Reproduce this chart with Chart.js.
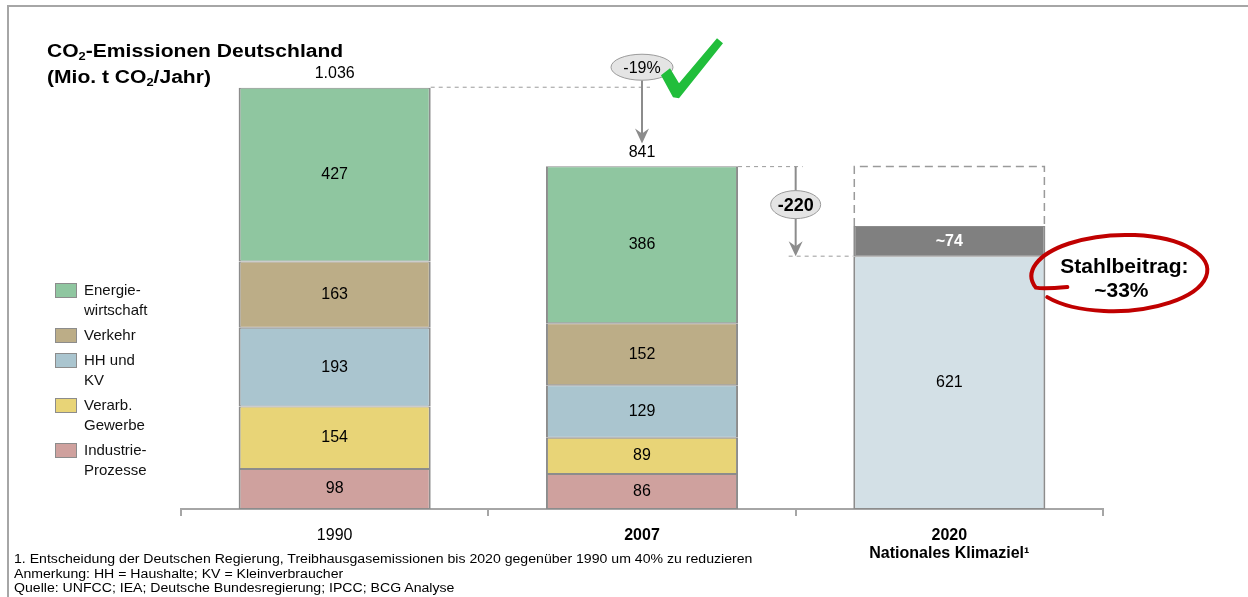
<!DOCTYPE html>
<html>
<head>
<meta charset="utf-8">
<script src="https://cdn.jsdelivr.net/npm/chart.js@4.4.1/dist/chart.umd.min.js"></script>
<style>
    html, body { margin: 0; padding: 0; background: #fff; }
    #wrap { position: relative; width: 1248px; height: 597px; overflow: hidden; font-family: Arial, "Liberation Sans", sans-serif; color: #000; }
    #frame { position: absolute; left: 7px; top: 5px; width: 1300px; height: 700px; border-left: 2px solid #a6a6a6; border-top: 2px solid #a6a6a6; }
    canvas { position: absolute; left: 0; top: 0; }
    #title { position: absolute; left: 47px; top: 38px; font-size: 18px; font-weight: bold; line-height: 26px; transform: scaleX(1.17); transform-origin: left top; white-space: nowrap; }
    #title sub { font-size: 11px; vertical-align: -3px; line-height: 0; }
    #legend { position: absolute; left: 55px; top: 280px; font-size: 15px; line-height: 20px; color: #111; }
    .item { display: flex; margin-bottom: 5px; }
    .box { width: 20px; height: 13px; border: 1px solid #8c8c8c; margin-top: 3px; margin-right: 7px; }
    #notes { position: absolute; left: 14px; top: 552px; font-size: 12px; line-height: 14.5px; white-space: nowrap; transform: scaleX(1.175); transform-origin: left top; }
</style>
</head>
<body>
<div id="wrap">
    <div id="frame"></div>
    <canvas id="chart" width="1248" height="597"></canvas>
    <div id="title">CO<sub>2</sub>-Emissionen Deutschland<br>(Mio. t CO<sub>2</sub>/Jahr)</div>
    <div id="legend"></div>
    <div id="notes">
        1. Entscheidung der Deutschen Regierung, Treibhausgasemissionen bis 2020 gegenüber 1990 um 40% zu reduzieren<br>
        Anmerkung: HH = Haushalte; KV = Kleinverbraucher<br>
        Quelle: UNFCC; IEA; Deutsche Bundesregierung; IPCC; BCG Analyse
    </div>
</div>
<script>
// Daten (Mio. t CO2/Jahr)
const categories = ['1990', '2007', ['2020', 'Nationales Klimaziel¹']];
const energie   = [427, 386, null];
const verkehr   = [163, 152, null];
const haushalte = [193, 129, null];
const gewerbe   = [154, 89, null];
const industrie = [98, 86, null];
const ziel2020  = [null, null, 621];
const stahl     = [null, null, 74];
const totals    = [1036, 841, null];
const reduction = 220;
const changeLabel = '-19%';
const steelShare = ['Stahlbeitrag:', '~33%'];

const FONT = 'Arial, "Liberation Sans", sans-serif';

const datasets = [
    { label: 'Industrie-Prozesse', legend: ['Industrie-', 'Prozesse'], data: industrie, backgroundColor: '#cfa19e' },
    { label: 'Verarb. Gewerbe', legend: ['Verarb.', 'Gewerbe'], data: gewerbe, backgroundColor: '#e8d477' },
    { label: 'HH und KV', legend: ['HH und', 'KV'], data: haushalte, backgroundColor: '#aac5cf' },
    { label: 'Verkehr', legend: ['Verkehr'], data: verkehr, backgroundColor: '#bcad87' },
    { label: 'Energiewirtschaft', legend: ['Energie-', 'wirtschaft'], data: energie, backgroundColor: '#8fc6a0' },
    { label: 'Ziel 2020', data: ziel2020, backgroundColor: '#d3e0e6' },
    { label: 'Stahl', data: stahl, backgroundColor: '#808080', prefix: '~', labelColor: '#fff', labelBold: true }
];
datasets.forEach(ds => {
    ds.borderColor = '#8c8c8c';
    ds.borderWidth = { left: 2, right: 2, top: 1, bottom: 1 };
    ds.borderSkipped = false;
});

// Legende (HTML), oberste Kategorie zuerst
const legendEl = document.getElementById('legend');
datasets.filter(ds => ds.legend).reverse().forEach(ds => {
    const item = document.createElement('div');
    item.className = 'item';
    item.innerHTML = '<div class="box" style="background:' + ds.backgroundColor + '"></div><div>' + ds.legend.join('<br>') + '</div>';
    legendEl.appendChild(item);
});

// Werte in den Segmenten
const segmentLabels = {
    id: 'segmentLabels',
    afterDatasetsDraw(chart) {
        const ctx = chart.ctx;
        ctx.save();
        ctx.textAlign = 'center';
        ctx.textBaseline = 'middle';
        chart.data.datasets.forEach((ds, i) => {
            chart.getDatasetMeta(i).data.forEach((bar, j) => {
                const v = ds.data[j];
                if (v == null) return;
                ctx.fillStyle = ds.labelColor || '#000';
                ctx.font = (ds.labelBold ? 'bold ' : '') + '16px ' + FONT;
                ctx.fillText((ds.prefix || '') + v, bar.x, (bar.y + bar.base) / 2);
            });
        });
        ctx.restore();
    }
};

function downArrow(ctx, x, y1, y2) {
    ctx.setLineDash([]);
    ctx.strokeStyle = '#8c8c8c';
    ctx.fillStyle = '#8c8c8c';
    ctx.lineWidth = 2;
    ctx.beginPath();
    ctx.moveTo(x, y1);
    ctx.lineTo(x, y2 - 8);
    ctx.stroke();
    ctx.beginPath();
    ctx.moveTo(x, y2);
    ctx.lineTo(x - 7, y2 - 15);
    ctx.lineTo(x, y2 - 10);
    ctx.lineTo(x + 7, y2 - 15);
    ctx.closePath();
    ctx.fill();
}

function bubble(ctx, cx, cy, rx, ry, text, font) {
    ctx.setLineDash([]);
    ctx.beginPath();
    ctx.ellipse(cx, cy, rx, ry, 0, 0, Math.PI * 2);
    ctx.fillStyle = '#e4e4e4';
    ctx.fill();
    ctx.strokeStyle = '#9a9a9a';
    ctx.lineWidth = 1;
    ctx.stroke();
    ctx.fillStyle = '#000';
    ctx.font = font;
    ctx.textAlign = 'center';
    ctx.textBaseline = 'middle';
    ctx.fillText(text, cx, cy + 1);
}

function dashedLine(ctx, x1, y1, x2, y2) {
    ctx.setLineDash([4, 4]);
    ctx.strokeStyle = '#9a9a9a';
    ctx.lineWidth = 1;
    ctx.beginPath();
    ctx.moveTo(x1, y1);
    ctx.lineTo(x2, y2);
    ctx.stroke();
}

// Summen, Pfeile, Markierungen
const annotations = {
    id: 'annotations',
    afterDatasetsDraw(chart) {
        const ctx = chart.ctx;
        const { x, y } = chart.scales;
        const bars = chart.getDatasetMeta(0).data;
        const steelBar = chart.getDatasetMeta(datasets.length - 1).data[2];
        const halfW = bars[0].width / 2;
        ctx.save();

        // Summen über den Balken
        ctx.fillStyle = '#000';
        ctx.font = '16px ' + FONT;
        ctx.textAlign = 'center';
        ctx.textBaseline = 'middle';
        totals.forEach((t, i) => {
            if (t == null) return;
            ctx.fillText(t.toLocaleString('de-DE'), x.getPixelForValue(i), y.getPixelForValue(t) - 14);
        });

        // -19%
        const y1990 = y.getPixelForValue(totals[0]);
        const y2007 = y.getPixelForValue(totals[1]);
        const ax = x.getPixelForValue(1);
        dashedLine(ctx, bars[0].x + halfW, y1990, ax + 8, y1990);
        downArrow(ctx, ax, y1990 - 7, y2007 - 23);
        bubble(ctx, ax, y1990 - 20, 31, 13, changeLabel, '16px ' + FONT);

        // Haken
        const cx = ax, cy = y1990 - 20;
        ctx.beginPath();
        ctx.moveTo(cx + 19, cy + 8);
        ctx.lineTo(cx + 28, cy + 1);
        ctx.lineTo(cx + 37, cy + 16);
        ctx.lineTo(cx + 75, cy - 29);
        ctx.lineTo(cx + 81, cy - 24);
        ctx.lineTo(cx + 37, cy + 31);
        ctx.lineTo(cx + 31, cy + 30);
        ctx.closePath();
        ctx.fillStyle = '#21be3b';
        ctx.fill();

        // -220
        const yTarget = y.getPixelForValue(totals[1] - reduction);
        const bx = (bars[1].x + halfW + steelBar.x - halfW) / 2;
        dashedLine(ctx, bars[1].x + halfW, y2007, bx + 7, y2007);
        dashedLine(ctx, bx - 7, yTarget, steelBar.x - halfW, yTarget);
        downArrow(ctx, bx, y2007, yTarget);
        bubble(ctx, bx, y2007 + 38, 25, 14, '-' + reduction, 'bold 18px ' + FONT);

        // gestrichelter Rahmen (Rest bis 2007-Niveau)
        ctx.setLineDash([8, 5]);
        ctx.strokeStyle = '#9a9a9a';
        ctx.lineWidth = 1.5;
        ctx.beginPath();
        ctx.moveTo(steelBar.x - halfW + 1, steelBar.y);
        ctx.lineTo(steelBar.x - halfW + 1, y2007);
        ctx.lineTo(steelBar.x + halfW - 1, y2007);
        ctx.lineTo(steelBar.x + halfW - 1, steelBar.y);
        ctx.stroke();

        // Stahlbeitrag
        const ex = steelBar.x + halfW + 74;
        const ey = steelBar.y + 47;
        ctx.setLineDash([]);
        ctx.strokeStyle = '#c00000';
        ctx.lineWidth = 4;
        ctx.lineCap = 'round';
        ctx.beginPath();
        ctx.ellipse(ex, ey, 88, 38, -0.04, 2.55, -Math.PI - 0.3, true);
        ctx.quadraticCurveTo(ex - 76, ey + 16, ex - 52, ey + 14);
        ctx.stroke();
        ctx.fillStyle = '#000';
        ctx.font = 'bold 21px ' + FONT;
        ctx.textAlign = 'center';
        ctx.textBaseline = 'middle';
        ctx.fillText(steelShare[0], ex + 5, ey - 6);
        ctx.fillText(steelShare[1], ex + 2, ey + 18);

        ctx.restore();
    }
};

new Chart(document.getElementById('chart'), {
    type: 'bar',
    data: { labels: categories, datasets },
    options: {
        responsive: false,
        animation: false,
        barPercentage: 0.625,
        categoryPercentage: 1,
        layout: { padding: { left: 181, right: 145, top: 40, bottom: 0 } },
        plugins: { legend: { display: false }, tooltip: { enabled: false } },
        scales: {
            x: {
                stacked: true,
                grid: { offset: true, drawOnChartArea: false, tickLength: 7, color: '#a6a6a6', lineWidth: 2 },
                border: { color: '#a6a6a6', width: 2 },
                ticks: {
                    color: '#000',
                    padding: 10,
                    font: (c) => ({ family: FONT, size: 16, weight: c.index > 0 ? 'bold' : 'normal', lineHeight: 1.15 })
                },
                afterFit(scale) { scale.height = 88; }
            },
            y: { stacked: true, display: false, min: 0, max: 1152 }
        }
    },
    plugins: [segmentLabels, annotations]
});
</script>
</body>
</html>
